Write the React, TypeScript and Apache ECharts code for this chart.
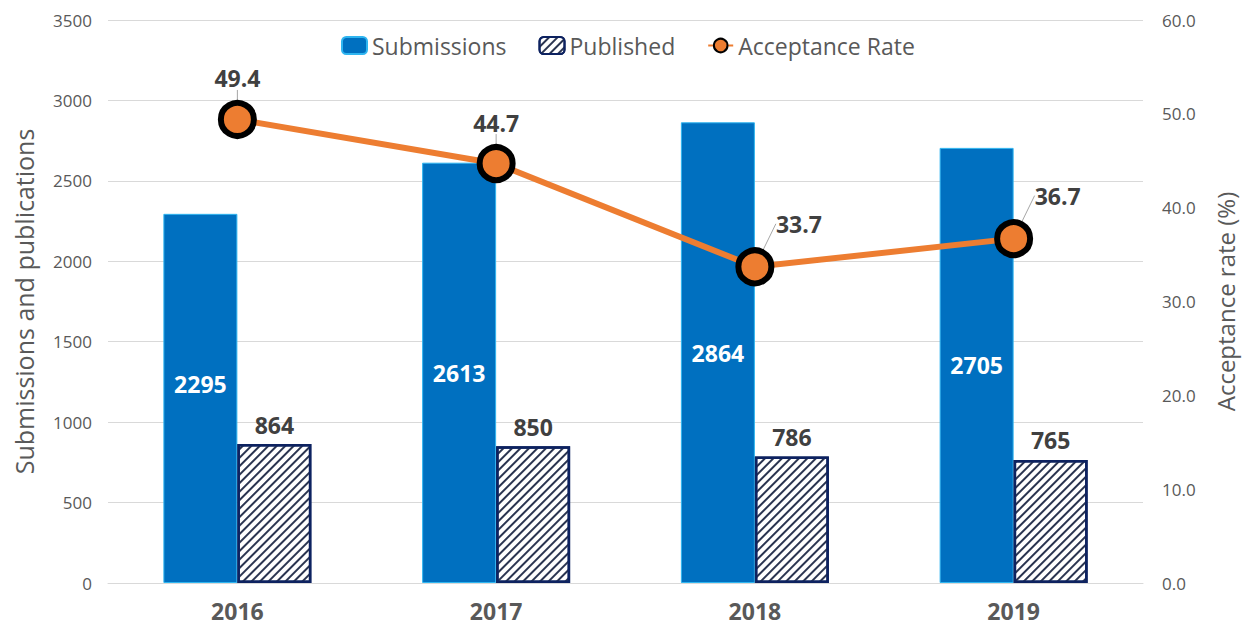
import React, { useEffect, useRef } from "react";
import * as echarts from "echarts";

const years = ["2016", "2017", "2018", "2019"];
const submissions = [2295, 2613, 2864, 2705];
const published = [864, 850, 786, 765];
const acceptanceRate = [49.4, 44.7, 33.7, 36.7];
const leftTicks = { min: 0, max: 3500, interval: 500 };
const rightTicks = { min: 0, max: 60, interval: 10 };

const FONT = "'Open Sans', 'DejaVu Sans', sans-serif";
const GRAY = "#595959";
const DARK = "#404040";

export default function App() {
  const ref = useRef<HTMLDivElement>(null);
  useEffect(() => {
    if (!ref.current) return;
    const chart = echarts.init(ref.current, undefined, { renderer: "svg" });
    chart.setOption({
      animation: false,
      textStyle: { fontFamily: FONT },
      legend: {
        top: 29,
        left: 336,
        itemWidth: 25,
        itemHeight: 17,
        itemGap: 32,
        textStyle: { fontSize: 23, color: GRAY, fontFamily: FONT },
        data: ["Submissions", "Published", "Acceptance Rate"],
      },
      grid: { left: 108, right: 102, top: 20, bottom: 46, containLabel: false, outerBoundsMode: "none" },
      xAxis: {
        type: "category",
        data: years,
        axisLine: { show: true, lineStyle: { color: "#d9d9d9" } },
        axisTick: { show: false },
        axisLabel: {
          fontSize: 23,
          fontWeight: "bold",
          color: GRAY,
          margin: 16,
          lineHeight: 23,
          fontFamily: FONT,
        },
      },
      yAxis: [
        {
          type: "value",
          ...leftTicks,
          name: "Submissions and publications",
          nameLocation: "middle",
          nameGap: 72,
          nameTextStyle: { fontSize: 25, color: GRAY, fontFamily: FONT },
          axisLabel: {
            fontSize: 17,
            color: GRAY,
            margin: 16,
            fontFamily: FONT,
            formatter: (v: number) => String(v),
          },
          splitLine: { lineStyle: { color: "#d9d9d9" } },
          axisLine: { show: false },
          axisTick: { show: false },
        },
        {
          type: "value",
          ...rightTicks,
          name: "Acceptance rate (%)",
          nameLocation: "middle",
          nameGap: 70,
          nameTextStyle: { fontSize: 24, color: GRAY, fontFamily: FONT },
          axisLabel: {
            fontSize: 17,
            color: GRAY,
            margin: 19,
            fontFamily: FONT,
            formatter: (v: number) => v.toFixed(1),
          },
          splitLine: { show: false },
          axisLine: { show: false },
          axisTick: { show: false },
        },
      ],
      series: [
        {
          name: "Submissions",
          type: "bar",
          yAxisIndex: 0,
          data: submissions.map((v, i) =>
            i === 0 ? { value: v, label: { offset: [0, -14] } } : v
          ),
          barWidth: 74,
          barGap: "0%",
          itemStyle: { color: "#0070C0", borderColor: "#2FB5F0", borderWidth: 1 },
          label: {
            show: true,
            position: "inside",
            color: "#ffffff",
            fontSize: 23,
            fontWeight: "bold",
            fontFamily: FONT,
          },
        },
        {
          name: "Published",
          type: "bar",
          yAxisIndex: 0,
          data: published,
          barWidth: 74,
          itemStyle: {
            color: "#ffffff",
            borderColor: "#0D2260",
            borderWidth: 2.5,
            decal: {
              symbol: "rect",
              symbolSize: 1,
              dashArrayX: [1, 0],
              dashArrayY: [2, 3.5],
              rotation: -Math.PI / 4,
              color: "#2A3450",
            },
          },
          label: {
            show: true,
            position: "top",
            distance: 8,
            color: DARK,
            fontSize: 23,
            fontWeight: "bold",
            fontFamily: FONT,
          },
        },
        {
          name: "Acceptance Rate",
          type: "line",
          yAxisIndex: 1,
          data: acceptanceRate,
          symbol: "circle",
          symbolSize: 33,
          lineStyle: { color: "#ED7D31", width: 6 },
          itemStyle: { color: "#ED7D31", borderColor: "#000000", borderWidth: 6 },
          z: 5,
          label: {
            show: true,
            position: "top",
            distance: 10,
            color: DARK,
            fontSize: 23,
            fontWeight: "bold",
            fontFamily: FONT,
            formatter: (p: any) => p.value.toFixed(1),
          },
          labelLine: { show: true, lineStyle: { color: "#a6a6a6", width: 1 } },
          labelLayout: (params: any) =>
            params.dataIndex >= 2 ? { dx: 44, dy: -2 } : {},
        },
      ],
    });
    return () => chart.dispose();
  }, []);
  return (
    <div
      ref={ref}
      style={{ position: "fixed", left: 0, top: 0, width: 1245, height: 629, background: "#fff" }}
    />
  );
}
